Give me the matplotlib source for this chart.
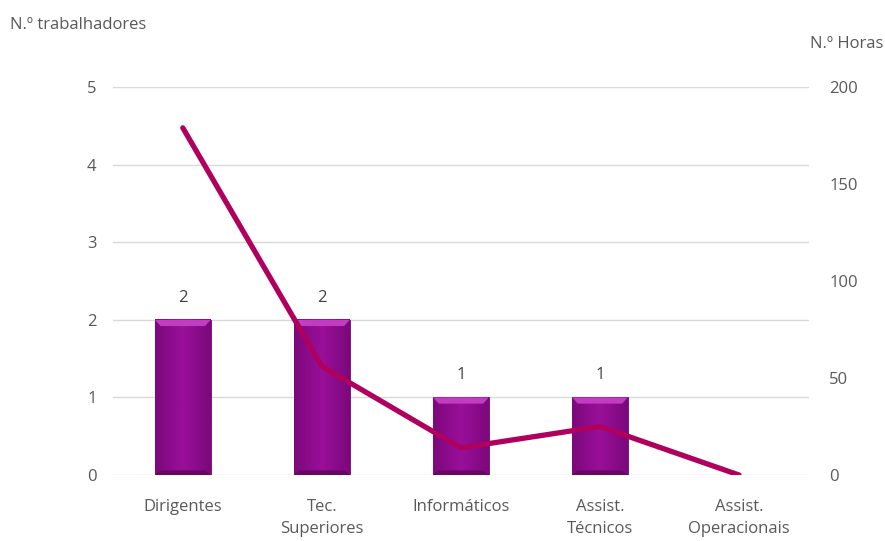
import matplotlib
matplotlib.use("Agg")
import matplotlib.pyplot as plt
import numpy as np

categories = ["Dirigentes", "Tec.\nSuperiores", "Informáticos", "Assist.\nTécnicos", "Assist.\nOperacionais"]
workers = [2, 2, 1, 1, 0]
hours = [179, 56, 14, 25, 0]

plt.rcParams['font.family'] = ['Open Sans', 'DejaVu Sans']
text_color = '#595959'

fig = plt.figure(figsize=(8.85, 5.41), dpi=100)
ax = fig.add_axes([0.128, 0.122, 0.7856, 0.717])
ax2 = ax.twinx()

x = np.arange(len(categories))
shade = matplotlib.colors.LinearSegmentedColormap.from_list('p', ['#7c087c', '#990f99'])

# bars with a soft vertical shading and a light top bevel
bars = ax.bar(x, workers, width=0.4, color='#8a0a8a', edgecolor='#6e086e', linewidth=0.6, zorder=2)
for rect in bars:
    h = rect.get_height()
    if h <= 0:
        continue
    x0 = rect.get_x()
    w = rect.get_width()
    grad = np.linspace(0, 1, 50).reshape(1, -1)
    grad = 1 - np.abs(grad - 0.5) * 2
    ax.imshow(grad, extent=[x0, x0 + w, 0, h], aspect='auto', cmap=shade, zorder=2.1)
    ax.fill([x0, x0 + w, x0 + w * 0.9, x0 + w * 0.1], [h, h, h - 0.08, h - 0.08],
            color='#c23cc2', zorder=2.2, linewidth=0)
    ax.fill([x0, x0 + w, x0 + w * 0.9, x0 + w * 0.1], [0, 0, 0.06, 0.06],
            color='#680668', zorder=2.2, linewidth=0)
    ax.text(x0 + w / 2, h + 0.18, str(int(h)), ha='center', va='bottom', fontsize=12, color='#404040')

ax.set_xlim(-0.5, len(categories) - 0.5)
ax.set_ylim(0, 5)
ax.set_yticks(range(0, 6))
ax.yaxis.grid(True, color='#d9d9d9', linewidth=1)
ax.set_axisbelow(True)
ax.set_xticks(x)
ax.set_xticklabels(categories, fontsize=12, color=text_color, linespacing=1.55)
ax.tick_params(axis='both', length=0, colors=text_color, labelsize=12)
ax.tick_params(axis='y', pad=12)
ax.tick_params(axis='x', pad=17)

ax2.plot(x, hours, color='#b0005e', linewidth=3.8, solid_capstyle='round', zorder=5)
ax2.set_ylim(0, 200)
ax2.set_yticks(range(0, 201, 50))
ax2.tick_params(axis='y', length=0, colors=text_color, labelsize=12, pad=15)

for a in (ax, ax2):
    for s in a.spines.values():
        s.set_visible(False)

fig.text(0.011, 0.953, "N.º trabalhadores", fontsize=12, color=text_color, va='center', ha='left')
fig.text(0.998, 0.918, "N.º Horas", fontsize=12, color=text_color, va='center', ha='right')

fig.savefig("out.png", dpi=100)
